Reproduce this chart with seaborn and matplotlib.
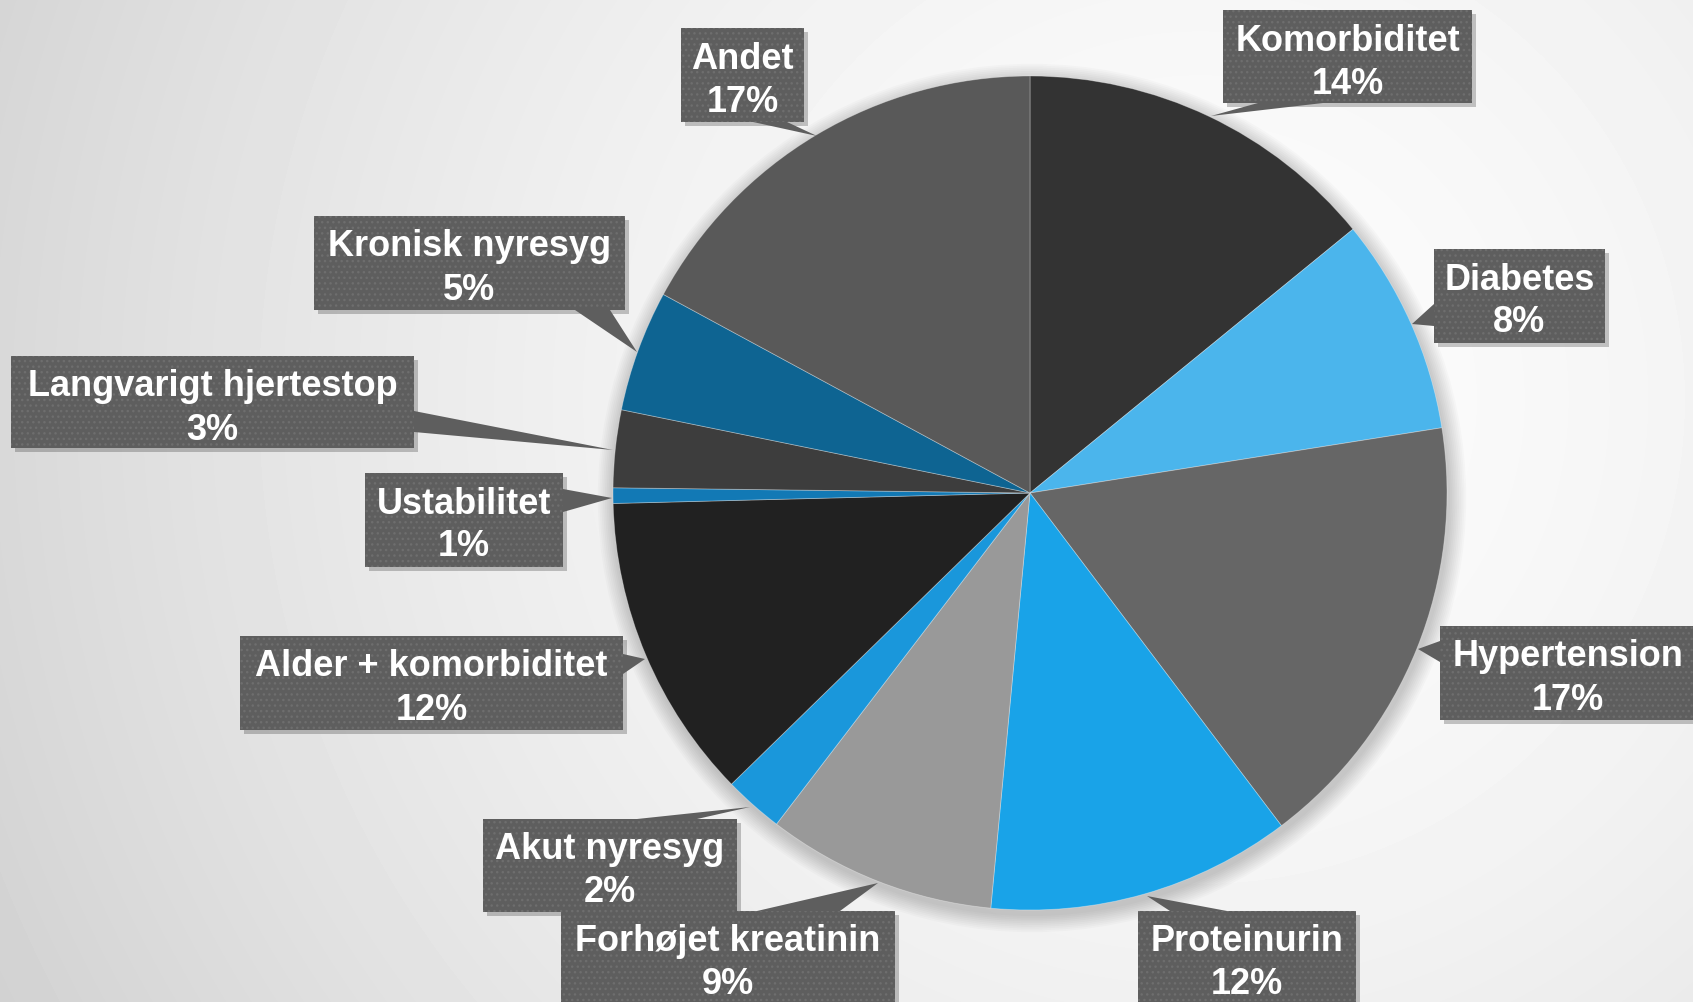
import numpy as np
import matplotlib
matplotlib.use("Agg")
import matplotlib.pyplot as plt
from matplotlib.patches import Rectangle, Polygon, Circle
import seaborn as sns

# ---------------- data ----------------
categories = ["Komorbiditet", "Diabetes", "Hypertension", "Proteinurin",
              "Forhøjet kreatinin", "Akut nyresyg", "Alder + komorbiditet",
              "Ustabilitet", "Langvarigt hjertestop", "Kronisk nyresyg", "Andet"]
shares = [14.1, 8.4, 17.2, 11.8, 8.9, 2.3, 11.9, 0.6, 3.0, 4.7, 17.1]
slice_colors = ["#333333", "#4BB5EC", "#666666", "#19A3E8", "#999999", "#1A97DB",
                "#212121", "#1279B5", "#3D3D3D", "#0E6492", "#595959"]

# ---------------- layout (image pixel coords, y down) ----------------
W, H = 1693, 1003
boxes = {  # left, top, right, bottom
    "Komorbiditet": (1223, 11, 1472, 104),
    "Diabetes": (1434, 250, 1605, 344),
    "Hypertension": (1440, 627, 1696, 721),
    "Proteinurin": (1138, 912, 1356, 1012),
    "Forhøjet kreatinin": (561, 912, 895, 1012),
    "Akut nyresyg": (483, 820, 737, 913),
    "Alder + komorbiditet": (240, 637, 623, 731),
    "Ustabilitet": (365, 474, 563, 568),
    "Langvarigt hjertestop": (11, 357, 414, 449),
    "Kronisk nyresyg": (314, 217, 625, 311),
    "Andet": (681, 29, 804, 123),
}
pointers = {  # base1, base2, tip
    "Komorbiditet": ((1258, 104), (1323, 104), (1211, 117)),
    "Diabetes": ((1434, 305), (1434, 327), (1412, 325)),
    "Hypertension": ((1440, 642), (1440, 663), (1418, 650)),
    "Proteinurin": ((1170, 912), (1227, 912), (1147, 897)),
    "Forhøjet kreatinin": ((757, 912), (840, 912), (878, 884)),
    "Akut nyresyg": ((637, 820), (697, 820), (750, 808)),
    "Alder + komorbiditet": ((623, 655), (623, 675), (645, 660)),
    "Ustabilitet": ((563, 490), (563, 513), (612, 499)),
    "Langvarigt hjertestop": ((414, 412), (414, 433), (613, 451)),
    "Kronisk nyresyg": ((575, 311), (610, 311), (637, 353)),
    "Andet": ((753, 123), (787, 123), (817, 137)),
}
center_img = (1030, 494)
radius = 417


def Y(y):
    return H - y


sns.set_theme(style="white")
plt.rcParams["font.family"] = ["Liberation Sans", "DejaVu Sans"]

fig = plt.figure(figsize=(W / 100, H / 100), dpi=100)

# background radial gradient
bg = fig.add_axes([0, 0, 1, 1], zorder=0)
yy, xx = np.mgrid[0:H, 0:W]
r = np.hypot(xx - 1200, yy - 400) / 1300.0
val = 0.99 - 0.16 * np.clip(r, 0, 1.3) ** 1.6
bg.imshow(val, cmap="gray", vmin=0, vmax=1, aspect="auto", extent=[0, W, H, 0])
bg.axis("off")

ax = fig.add_axes([0, 0, 1, 1], zorder=1)
ax.patch.set_alpha(0)

# soft pie shadow
cx, cy = center_img[0], Y(center_img[1])
for i in range(10):
    ax.add_patch(Circle((cx + 2, cy - 5), radius + 1 + i * 1.8, facecolor="black",
                        edgecolor="none", alpha=0.018, zorder=1))

palette = sns.color_palette(slice_colors)
ax.pie(shares, colors=palette, startangle=90, counterclock=False,
       center=(cx, cy), radius=radius,
       wedgeprops=dict(linewidth=0.6, edgecolor=(1, 1, 1, 0.35), zorder=2))

box_face = "#5e5e5e"
for name, share in zip(categories, shares):
    l, t, rr, b = boxes[name]
    p1, p2, tip = pointers[name]
    # shadow
    ax.add_patch(Rectangle((l + 4, Y(b) - 4), rr - l, b - t, facecolor="black",
                           edgecolor="none", alpha=0.22, zorder=3))
    poly = Polygon([(p1[0], Y(p1[1])), (p2[0], Y(p2[1])), (tip[0], Y(tip[1]))],
                   closed=True, facecolor=box_face, edgecolor="none", zorder=4)
    ax.add_patch(poly)
    rect = Rectangle((l, Y(b)), rr - l, b - t, facecolor=box_face,
                     edgecolor="#6e6e6e", linewidth=0, hatch="...", zorder=5)
    ax.add_patch(rect)
    xc = (l + rr) / 2
    ax.text(xc, Y(t + 26), name, color="white", fontsize=26, fontweight="bold",
            ha="center", va="center_baseline", zorder=6)
    ax.text(xc, Y(t + 69), f"{share:.0f}%", color="white", fontsize=26,
            fontweight="bold", ha="center", va="center_baseline", zorder=6)

ax.set_xlim(0, W)
ax.set_ylim(0, H)
ax.set_aspect("auto")
ax.axis("off")

fig.savefig("out.png", dpi=100)
